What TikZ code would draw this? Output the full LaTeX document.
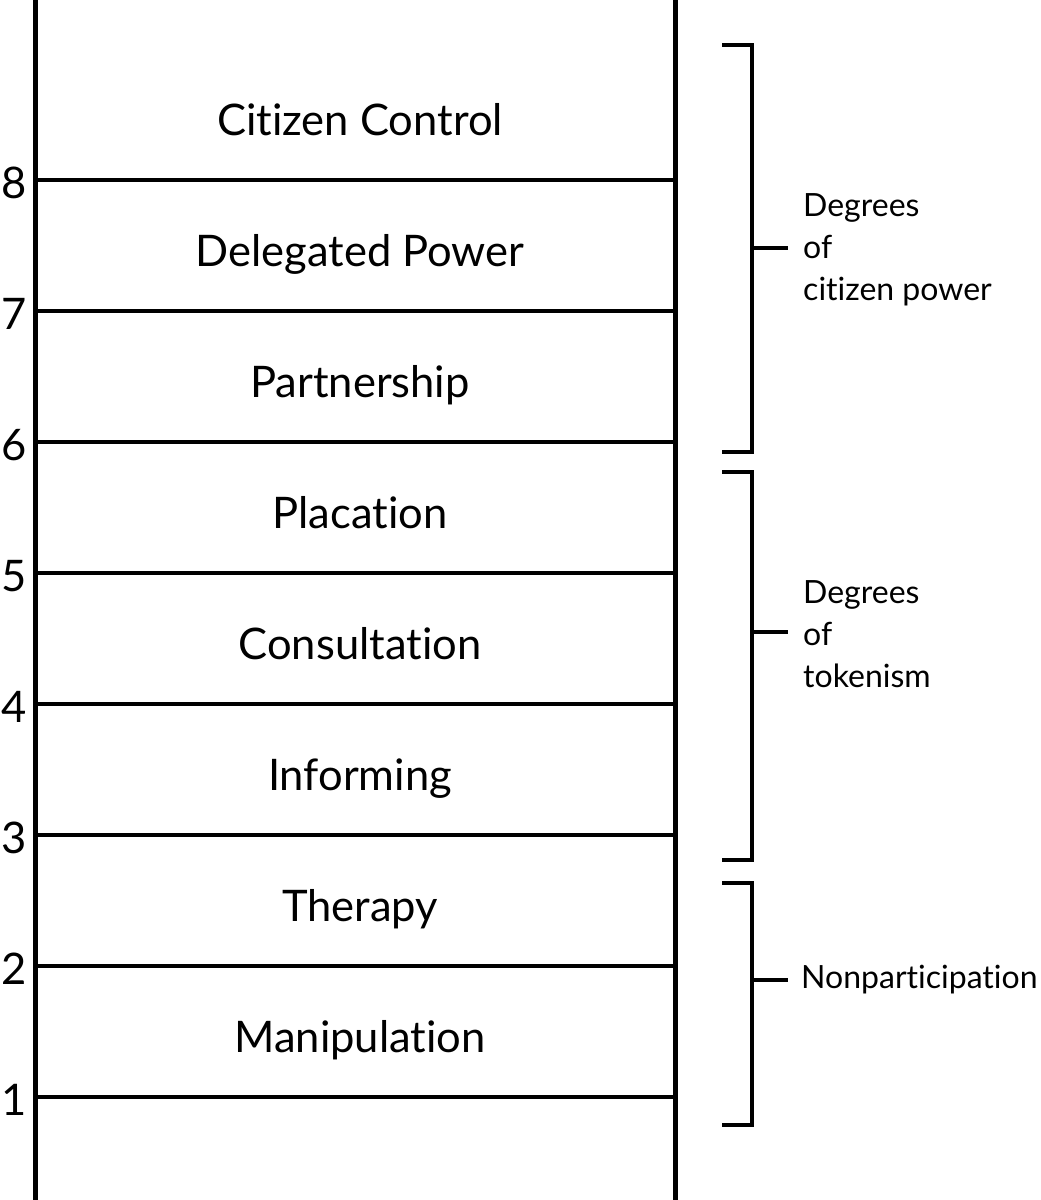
\documentclass[tikz,border=0pt]{standalone}
\usepackage{fontspec}
\setmainfont{Lato}[Ligatures={NoCommon,NoRequired,NoContextual}]
\usetikzlibrary{positioning}

\tikzset{
  rail/.style={line width=5pt},
  rung/.style={line width=4.5pt},
  rungtext/.style={font=\fontsize{43.5}{50}\selectfont, anchor=base, inner sep=0pt},
  grouptext/.style={font=\fontsize{32}{42}\selectfont, align=left, anchor=west, inner sep=0pt},
  bracket/.style={line width=4.5pt}
}

\begin{document}
\begin{tikzpicture}[x=1pt,y=-1pt]
        \useasboundingbox (0,0) rectangle (1041,1200);
        \draw[rail] (35,0) -- (35,1200);
        \draw[rail] (675,0) -- (675,1200);
        \foreach \i/\name in {1/Manipulation, 2/Therapy, 3/Informing, 4/Consultation, 5/Placation, 6/Partnership, 7/Delegated Power, 8/Citizen Control} {
          \pgfmathsetmacro\yy{1097-131*(\i-1)}
          \coordinate (l\i) at (35,\yy);
          \coordinate (r\i) at (675,\yy);
          \draw[rung] (l\i) -- (r\i);
          \node[rungtext] (n\i) at (14,\yy+18) {\i};
          \node[rungtext] (s\i) at (360,\yy-45) {\name};
        }
        \coordinate (t1) at (752,248);
        \coordinate (t2) at (752,632);
        \coordinate (t3) at (752,980);
        \draw[bracket] (722,45) -- (752,45) -- (752,452) -- (722,452);
        \draw[bracket] (722,472) -- (752,472) -- (752,860) -- (722,860);
        \draw[bracket] (722,883) -- (752,883) -- (752,1125) -- (722,1125);
        \node[grouptext] (g1) at (803,250) {Degrees\\of\\citizen power};
        \node[grouptext] (g2) at (803,634) {Degrees\\of\\tokenism};
        \node[grouptext] (g3) at (801,980) {Nonparticipation};
        \draw[bracket, shorten >=15pt] (t1) -- (t1 -| g1.west);
        \draw[bracket, shorten >=15pt] (t2) -- (t2 -| g2.west);
        \draw[bracket, shorten >=13pt] (t3) -- (t3 -| g3.west);
\end{tikzpicture}
\end{document}
